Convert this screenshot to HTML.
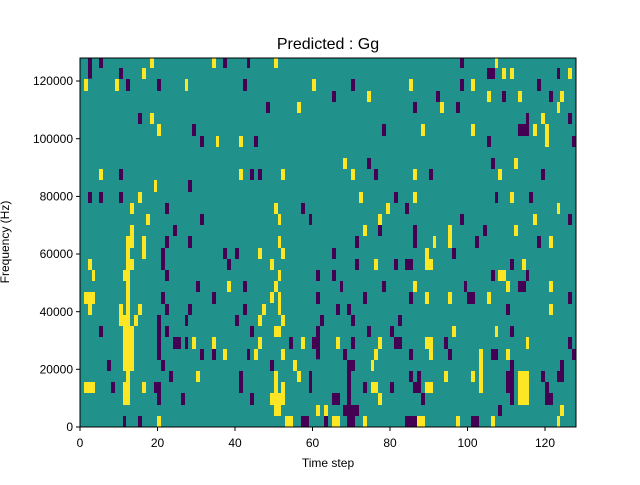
<!DOCTYPE html>
<html><head><meta charset="utf-8"><style>
html,body{margin:0;padding:0;background:#fff;}
svg text{font-family:"Liberation Sans","DejaVu Sans",sans-serif;fill:#000;}
</style></head><body>
<svg id="s" width="640" height="480" xmlns="http://www.w3.org/2000/svg">
<rect x="0" y="0" width="640" height="480" fill="#fff"/>
<rect x="80" y="58" width="496" height="369" fill="#21918c"/>
<g id="cells"></g>
<rect x="80" y="58" width="496" height="369" fill="none" stroke="#000" stroke-width="1"/>
<text x="328" y="49" font-size="16" text-anchor="middle">Predicted : Gg</text>
<g font-size="12" text-anchor="middle">
<text x="80" y="447">0</text><text x="157.5" y="447">20</text><text x="235" y="447">40</text>
<text x="312.5" y="447">60</text><text x="390" y="447">80</text><text x="467.5" y="447">100</text><text x="545" y="447">120</text>
</g>
<g stroke="#000" stroke-width="1">
<line x1="80" y1="427" x2="80" y2="431"/><line x1="157.5" y1="427" x2="157.5" y2="431"/><line x1="235" y1="427" x2="235" y2="431"/>
<line x1="312.5" y1="427" x2="312.5" y2="431"/><line x1="390" y1="427" x2="390" y2="431"/><line x1="467.5" y1="427" x2="467.5" y2="431"/><line x1="545" y1="427" x2="545" y2="431"/>
<line x1="76" y1="427" x2="80" y2="427"/><line x1="76" y1="369.3" x2="80" y2="369.3"/><line x1="76" y1="311.7" x2="80" y2="311.7"/>
<line x1="76" y1="254" x2="80" y2="254"/><line x1="76" y1="196.4" x2="80" y2="196.4"/><line x1="76" y1="138.7" x2="80" y2="138.7"/><line x1="76" y1="81" x2="80" y2="81"/>
</g>
<g font-size="12" text-anchor="end">
<text x="73" y="431">0</text><text x="73" y="373.5">20000</text><text x="73" y="316">40000</text>
<text x="73" y="258">60000</text><text x="73" y="200.5">80000</text><text x="73" y="143">100000</text><text x="73" y="85">120000</text>
</g>
<text x="328" y="467" font-size="12" text-anchor="middle">Time step</text>
<text transform="translate(9,242) rotate(-90)" font-size="12" text-anchor="middle">Frequency (Hz)</text>
</svg>
<script>
var P="#440154",Y="#fde725";
var Q=[
[80,58,[[24,0,12,62],[57,0,12,30],[117,30,12,33],[138,63,12,36],[231,63,12,36],[429,0,12,30],[501,0,9,30],[489,63,12,36],[558,132,12,33],[174,165,12,33],[336,198,12,36],[360,234,12,33],[522,234,12,33],[117,333,12,33],[510,333,12,33],[534,333,12,33],[324,366,12,36],[24,402,12,33],[57,402,12,33],[117,402,12,33],[255,435,12,33],[663,435,12,33],[360,468,12,33],[687,468,9,33],[279,501,12,33],[255,534,12,21],[324,534,12,21]],
[[210,0,12,30],[396,0,12,30],[582,0,12,30],[186,30,12,33],[12,63,12,36],[105,63,12,36],[315,63,9,36],[696,63,12,36],[651,132,12,33],[210,165,12,33],[231,198,12,36],[408,234,9,33],[477,234,12,33],[57,333,12,33],[477,333,12,33],[603,333,12,33],[222,366,9,36],[174,402,12,33],[150,435,12,33],[582,435,12,33],[198,468,12,33],[594,468,9,33],[150,501,12,54],[138,534,24,21],[186,534,12,21],[594,534,9,21]]],
[80,243,[[255,0,12,15],[324,0,12,15],[243,15,12,66],[255,81,12,33],[243,147,12,36],[255,183,12,33],[231,216,12,135],[255,249,12,33],[279,282,24,36],[315,282,9,36],[315,216,9,33],[324,183,12,33],[348,114,12,33],[396,147,12,36],[360,318,12,33],[396,318,12,33],[243,351,12,33],[267,384,12,33],[222,417,21,33],[231,450,12,36],[303,450,12,36],[429,15,12,33],[465,15,12,33],[441,48,12,33],[489,114,12,33],[489,183,12,33],[465,216,12,33],[510,249,12,33],[501,318,9,33],[477,384,12,66],[510,450,12,36],[570,351,12,33],[627,282,12,36],[696,282,24,36],[708,249,12,100],[708,81,12,33],[708,147,12,36],[720,216,12,33],[687,384,9,66],[57,249,12,33],[81,351,12,33],[93,417,12,33],[129,519,9,36],[174,519,12,36],[663,519,24,36],[732,519,12,36]],
[[138,0,24,15],[186,0,12,48],[138,15,12,33],[138,48,24,33],[24,48,12,33],[36,81,9,33],[129,81,21,33],[138,114,12,372],[129,249,33,135],[117,183,12,66],[117,216,33,33],[162,216,12,33],[174,183,12,33],[12,147,33,36],[24,183,12,33],[12,417,33,33],[129,417,21,69],[186,417,12,33],[231,519,12,36],[336,282,12,36],[396,282,12,36],[429,318,12,33],[348,384,12,33],[441,114,12,33],[534,15,12,33],[570,48,12,33],[594,81,9,33],[582,114,12,33],[570,147,12,33],[594,147,9,69],[546,183,12,33],[534,216,12,33],[603,216,12,33],[534,282,12,36],[522,318,12,33],[582,249,21,33],[603,318,12,33],[639,351,12,33],[651,384,12,33],[663,282,12,36],[582,384,12,66],[570,450,45,36],[582,486,21,33],[603,417,12,33],[603,15,12,33],[594,0,9,15],[708,486,12,33],[732,486,12,33],[615,519,24,36]]],
[326,58,[[402,0,12,30],[483,30,24,33],[693,30,9,33],[75,63,12,36],[402,63,12,36],[633,63,12,36],[18,99,12,33],[330,99,12,33],[528,99,12,33],[669,99,12,33],[261,132,12,33],[390,132,12,33],[600,165,9,33],[726,165,12,33],[168,198,12,36],[576,198,33,36],[483,234,12,33],[738,234,12,33],[123,300,12,33],[495,300,12,33],[144,333,12,33],[309,333,12,33],[645,333,12,33],[204,402,12,33],[507,402,9,33],[609,402,12,33],[237,435,12,33],[402,468,12,33],[726,468,12,33],[156,501,12,33],[261,501,12,54],[471,501,12,33],[87,534,12,21],[447,534,12,21],[633,534,12,21]],
[[507,0,9,30],[528,30,12,33],[552,30,12,33],[726,30,12,33],[249,63,12,36],[435,63,12,36],[123,99,12,33],[483,99,12,33],[576,99,12,33],[702,99,12,33],[342,132,12,33],[693,132,9,33],[645,165,12,33],[285,198,12,36],[435,198,12,36],[621,198,12,36],[657,198,12,69],[51,300,12,33],[564,300,12,33],[75,333,12,33],[261,333,12,33],[516,333,12,33],[99,402,12,33],[261,402,12,33],[552,402,12,33],[180,435,12,33],[693,435,9,33],[156,468,12,33],[621,468,12,33],[111,501,12,33],[366,501,12,54],[564,501,12,33],[321,534,9,21],[669,534,12,21]]],
[326,243,[[87,0,12,15],[261,0,12,15],[447,0,12,15],[633,0,12,15],[18,15,12,33],[378,15,12,33],[87,48,12,33],[204,48,12,33],[237,48,24,33],[552,48,12,33],[18,81,12,33],[495,81,12,33],[600,81,9,33],[42,114,9,33],[168,114,12,33],[414,114,9,33],[576,114,24,33],[111,147,12,36],[249,147,12,36],[423,147,24,36],[726,147,12,36],[30,183,12,33],[63,183,12,33],[540,183,12,33],[75,216,12,33],[216,216,12,33],[123,249,12,33],[192,249,12,33],[552,249,12,33],[75,282,12,36],[204,282,24,36],[354,282,12,36],[726,282,12,36],[51,318,12,33],[249,318,12,33],[366,318,12,33],[495,318,21,33],[738,318,12,33],[63,351,24,33],[63,351,12,204],[552,351,12,135],[702,351,12,33],[249,384,12,33],[273,384,12,66],[540,384,24,66],[645,384,12,33],[693,384,21,33],[111,417,12,33],[192,417,12,33],[261,417,24,33],[657,417,12,33],[18,450,24,36],[285,450,12,36],[657,450,24,36],[51,486,12,33],[75,486,24,33],[516,486,12,33],[0,519,6,36],[75,519,12,36],[237,519,36,36],[435,519,24,36]],
[[321,0,9,15],[366,0,12,15],[669,0,12,15],[297,15,12,33],[144,48,12,33],[297,48,24,33],[588,48,12,33],[516,81,24,33],[261,114,12,33],[540,114,12,33],[669,114,12,33],[297,147,12,36],[366,147,12,36],[483,147,12,36],[669,183,12,33],[378,249,12,33],[507,249,9,33],[30,282,12,36],[156,282,12,36],[297,282,24,36],[600,282,9,36],[144,318,12,33],[309,318,12,33],[459,318,12,132],[540,318,12,33],[135,351,9,33],[354,384,12,33],[435,384,12,33],[576,384,33,102],[135,417,21,33],[297,417,24,33],[156,450,12,36],[0,486,6,33],[702,486,12,33],[18,519,24,36],[111,519,12,36],[273,519,24,36],[390,519,12,36],[495,519,12,36],[693,519,9,36]]]
];
var g=document.getElementById("cells"),h="";
Q.forEach(function(q){
 [[q[2],P],[q[3],Y]].forEach(function(p){
  p[0].forEach(function(r){
   var x=q[0]+r[0]/3,y=q[1]+r[1]/3,w=r[2]/3,hh=r[3]/3;
   if(x+w>576)w=576-x; if(y+hh>427)hh=427-y;
   h+='<rect x="'+x.toFixed(2)+'" y="'+y.toFixed(2)+'" width="'+w.toFixed(2)+'" height="'+hh.toFixed(2)+'" fill="'+p[1]+'"/>';
  });
 });
});
g.innerHTML=h;
</script>
</body></html>
